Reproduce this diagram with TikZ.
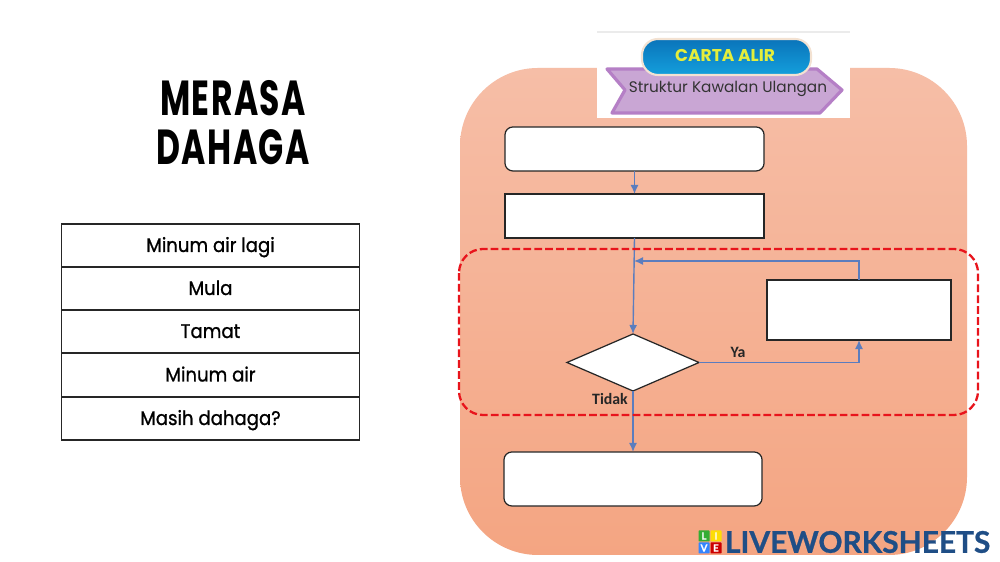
\documentclass[tikz,border=0pt]{standalone}
\usepackage{fontspec}
\usepackage[table]{xcolor}
\usetikzlibrary{shapes.geometric,arrows.meta}
\setmainfont{Poppins}
\newfontfamily\labelfont{Carlito}
\newfontfamily\logofont[FakeBold=0.8]{Lato}
\newfontfamily\titlefont[FakeStretch=0.67,LetterSpace=3]{Poppins}
\newfontfamily\cellfont[FakeStretch=0.92,FakeBold=1]{Poppins}
\definecolor{panelTop}{HTML}{F6BEA7}
\definecolor{panelBot}{HTML}{F4A582}
\definecolor{flowBlue}{HTML}{5B7DBE}
\definecolor{loopRed}{HTML}{E8141C}
\definecolor{bannerFill}{HTML}{C9A6D4}
\definecolor{bannerEdge}{HTML}{B57FC6}
\definecolor{pillTop}{HTML}{0A74BA}
\definecolor{pillBot}{HTML}{149FDC}
\definecolor{pillEdge}{HTML}{F3E2D2}
\definecolor{chartYellow}{HTML}{E4EE3C}
\definecolor{logoBlue}{HTML}{1F4E86}

\begin{document}
\begin{tikzpicture}[x=0.01cm, y=-0.01cm,
  every node/.style={inner sep=0pt, outer sep=0pt},
  cell/.style={draw=black!85, line width=0.3pt, fill=white, minimum width=2.97cm, minimum height=0.43cm, text height=1.5mm, text depth=0.2mm, font=\cellfont\fontsize{5.6}{7}\selectfont},
  answer/.style={draw=black!85, line width=0.35pt, fill=white},
  flow/.style={draw=flowBlue, line width=0.4pt, -{Latex[length=0.9mm,width=0.8mm]}},
  branch/.style={font=\labelfont\bfseries\fontsize{4.5}{5}\selectfont, text=black!85},
  logosq/.style={minimum size=0.11cm, font=\logofont\bfseries\fontsize{2.8}{3}\selectfont, text=white, rounded corners=0.2pt}]
\useasboundingbox (0,0) rectangle (1000,562);
\fill[white] (0,0) rectangle (1000,562);
% panel
\shade[top color=panelTop, bottom color=panelBot, rounded corners=0.78cm] (460,68) rectangle (967,555);
% heading image
\fill[white] (597,32) rectangle (850,118);
\draw[black!8, line width=0.3pt] (597,32) -- (850,32);
\draw[fill=bannerFill, draw=bannerEdge, line width=0.9pt, line join=round]
  (607,69) -- (817,69) -- (842,90) -- (820,113) -- (612,113) -- (625,90) -- cycle;
\node (sub) at (728,89) {\fontsize{4.35}{6}\selectfont\color{black!80}Struktur Kawalan Ulangan};
\shade[draw=pillEdge, line width=0.6pt, rounded corners=0.16cm, top color=pillTop, bottom color=pillBot] (642,39) rectangle (811,75);
\node (chart) at (725,56) {\fontsize{4.85}{6}\selectfont\fontseries{sb}\selectfont\color{chartYellow}CARTA ALIR};
% title
\node (t1) at (233,98) {\titlefont\bfseries\fontsize{14}{16}\selectfont MERASA};
\node (t2) at (233,147) {\titlefont\bfseries\fontsize{14}{16}\selectfont DAHAGA};
% choices
\node[cell] (c1) at (210.5,245.5) {Minum air lagi};
\node[cell] (c2) at (210.5,288.5) {Mula};
\node[cell] (c3) at (210.5,331.5) {Tamat};
\node[cell] (c4) at (210.5,375) {Minum air};
\node[cell] (c5) at (210.5,418.5) {Masih dahaga?};
% chart boxes
\node[answer, rounded corners=0.8mm, minimum width=2.59cm, minimum height=0.44cm] (start) at (634.5,149) {};
\node[answer, minimum width=2.59cm, minimum height=0.44cm] (drink) at (634.5,216) {};
\node[answer, minimum width=1.84cm, minimum height=0.60cm] (again) at (859,310) {};
\node[answer, diamond, aspect=2.3, minimum width=1.32cm, minimum height=0.57cm] (ask) at (633,362.5) {};
\node[answer, rounded corners=0.8mm, minimum width=2.58cm, minimum height=0.54cm] (stop) at (633,479) {};
\coordinate (join) at (634,261);
% connectors
\draw[flow] (start) -- (drink);
\draw[flow] (drink.south) -- (ask.north);
\draw[flow] (again.north) |- (join);
\draw[flow] (ask.east) -| (again.south);
\draw[flow] (ask.south) -- (stop.north);
\node[branch] (yes) at (738,352) {Ya};
\node[branch] (no) at (610,399) {Tidak};
% loop frame
\draw[loopRed, line width=0.65pt, dash pattern=on 2.2pt off 0.9pt, rounded corners=0.24cm] (459,249) rectangle (978,415);
% logo
\node[logosq, fill=green!60!black!80] (l1) at (704,536) {L};
\node[logosq, fill=yellow!80!orange] (l2) at (716,536) {I};
\node[logosq, fill=blue!60!cyan!80] (l3) at (704,548) {V};
\node[logosq, fill=red!80!black] (l4) at (716,548) {E};
\node[anchor=west, text=logoBlue] (logo) at (725,542) {\logofont\bfseries\fontsize{8.5}{10}\selectfont LIVEWORKSHEETS};
\end{tikzpicture}
\end{document}
